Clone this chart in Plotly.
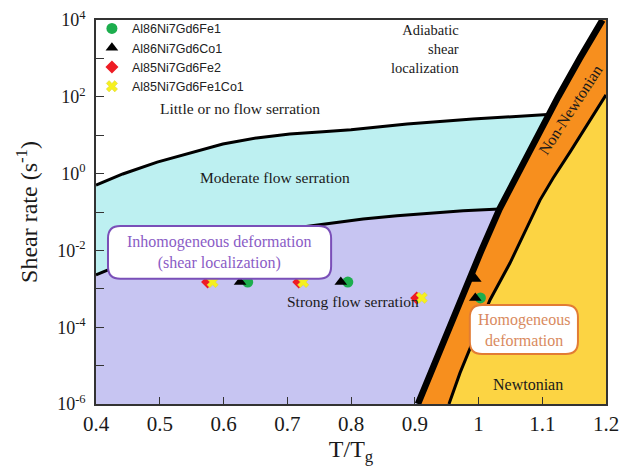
import plotly.graph_objects as go

# ---------------- data ----------------
# Region boundaries: T/Tg values and log10(shear rate) values
upper_x = [0.40, 0.442, 0.496, 0.547, 0.599, 0.652, 0.704, 0.756, 0.80, 0.888, 0.991, 1.1084]
upper_log = [-0.30, -0.01, 0.30, 0.54, 0.77, 0.93, 1.03, 1.09, 1.14, 1.29, 1.42, 1.54]

lower_x = [0.40, 0.419, 0.45, 0.50, 0.55, 0.60, 0.65, 0.70, 0.767, 0.819, 0.872, 0.925, 0.976, 1.033]
lower_log = [-2.64, -2.51, -2.33, -2.08, -1.88, -1.72, -1.58, -1.44, -1.29, -1.18, -1.10, -1.03, -0.97, -0.92]

# thick black boundary (left edge of the non-Newtonian band), bottom -> top
black_x = [0.905, 0.930, 0.9534, 0.9782, 1.0045, 1.033, 1.0618, 1.0927, 1.1084, 1.125, 1.1589, 1.1944]
black_log = [-6.0, -5.0, -4.0, -3.0, -2.0, -0.92, 0.0, 1.0, 1.54, 2.0, 3.0, 4.0]

# Newtonian / non-Newtonian boundary, bottom -> top
nn_x = [0.9537, 0.971, 1.018, 1.0494, 1.0965, 1.1169, 1.1435, 1.1702, 1.20]
nn_log = [-6.0, -5.19, -3.29, -2.33, -0.69, -0.12, 0.56, 1.27, 2.05]

# Alloy data points
series_names = ["Al86Ni7Gd6Fe1", "Al86Ni7Gd6Co1", "Al85Ni7Gd6Fe2", "Al85Ni7Gd6Fe1Co1"]
fe1_x = [0.638, 0.795, 1.003]
fe1_y = [1.5e-3, 1.5e-3, 5.8e-4]
co1_x = [0.626, 0.784, 0.995, 0.995]
co1_y = [1.5e-3, 1.5e-3, 1.8e-3, 5.8e-4]
fe2_x = [0.575, 0.718, 0.903]
fe2_y = [1.5e-3, 1.5e-3, 5.8e-4]
fe1co1_x = [0.583, 0.725, 0.911]
fe1co1_y = [1.5e-3, 1.5e-3, 5.8e-4]

x_tick_vals = [0.4, 0.5, 0.6, 0.7, 0.8, 0.9, 1.0, 1.1, 1.2]
x_tick_text = ["0.4", "0.5", "0.6", "0.7", "0.8", "0.9", "1", "1.1", "1.2"]
y_exponents = list(range(-6, 5))

# ---------------- layout constants ----------------
X_MIN, X_MAX = 0.4, 1.2
E_MIN, E_MAX = -6, 4

C_CYAN = "#BDF0F1"
C_PURPLE = "#C7C5F2"
C_ORANGE = "#F78F1E"
C_YELLOW = "#FCD443"


def p10(v):
    return [10.0 ** e for e in v]


fig = go.Figure()

ix_top = black_log.index(upper_log[-1])
ix_bot = black_log.index(lower_log[-1])

# cyan: moderate flow serration
cyan_x = upper_x + black_x[ix_top - 1:ix_bot:-1] + lower_x[::-1]
cyan_l = upper_log + black_log[ix_top - 1:ix_bot:-1] + lower_log[::-1]
fig.add_trace(go.Scatter(x=cyan_x, y=p10(cyan_l), fill="toself", fillcolor=C_CYAN,
                         mode="none", hoverinfo="skip", showlegend=False))

# purple: strong flow serration
pur_x = lower_x + black_x[ix_bot - 1::-1] + [X_MIN]
pur_l = lower_log + black_log[ix_bot - 1::-1] + [E_MIN]
fig.add_trace(go.Scatter(x=pur_x, y=p10(pur_l), fill="toself", fillcolor=C_PURPLE,
                         mode="none", hoverinfo="skip", showlegend=False))

# orange: non-Newtonian band
or_x = black_x + [X_MAX] + nn_x[::-1]
or_l = black_log + [E_MAX] + nn_log[::-1]
fig.add_trace(go.Scatter(x=or_x, y=p10(or_l), fill="toself", fillcolor=C_ORANGE,
                         mode="none", hoverinfo="skip", showlegend=False))

# yellow: Newtonian
ye_x = nn_x + [X_MAX]
ye_l = nn_log + [E_MIN]
fig.add_trace(go.Scatter(x=ye_x, y=p10(ye_l), fill="toself", fillcolor=C_YELLOW,
                         mode="none", hoverinfo="skip", showlegend=False))

# boundary lines
for bx, bl, w in [(upper_x, upper_log, 3), (lower_x, lower_log, 3),
                  (nn_x, nn_log, 3), (black_x, black_log, 6.5)]:
    fig.add_trace(go.Scatter(x=bx, y=p10(bl), mode="lines",
                             line=dict(color="black", width=w),
                             hoverinfo="skip", showlegend=False))

# data points
fig.add_trace(go.Scatter(x=fe1_x, y=fe1_y, mode="markers", name=series_names[0],
                         marker=dict(symbol="circle", size=11, color="#1DAE4E")))
fig.add_trace(go.Scatter(x=co1_x, y=co1_y, mode="markers", name=series_names[1],
                         marker=dict(symbol="triangle-up", size=11, color="black")))
fig.add_trace(go.Scatter(x=fe2_x, y=fe2_y, mode="markers", name=series_names[2],
                         marker=dict(symbol="diamond", size=10, color="#EE1C24")))
fig.add_trace(go.Scatter(x=fe1co1_x, y=fe1co1_y, mode="markers", name=series_names[3],
                         marker=dict(symbol="x", size=10, color="#F6F01E",
                                     line=dict(color="#D8D040", width=0.5))))


# ---------------- decorations ----------------
def rounded_box(x0, y0, x1, y1, rx, ry):
    return (f"M {x0+rx},{y0} L {x1-rx},{y0} Q {x1},{y0} {x1},{y0+ry} "
            f"L {x1},{y1-ry} Q {x1},{y1} {x1-rx},{y1} L {x0+rx},{y1} "
            f"Q {x0},{y1} {x0},{y1-ry} L {x0},{y0+ry} Q {x0},{y0} {x0+rx},{y0} Z")


shapes = [
    dict(type="path", xref="paper", yref="paper", layer="above",
         path=rounded_box(0.0235, 0.326, 0.461, 0.4635, 0.024, 0.032),
         fillcolor="white", line=dict(color="#7A4FB8", width=2)),
    dict(type="path", xref="paper", yref="paper", layer="above",
         path=rounded_box(0.733, 0.130, 0.945, 0.258, 0.024, 0.032),
         fillcolor="white", line=dict(color="#E27C34", width=2)),
]

SERIF = "Liberation Serif"
txt = dict(family=SERIF, size=15.5, color="#1a1a1a")
annotations = [
    dict(text="Little or no flow serration", x=0.282, y=0.769, font=txt),
    dict(text="Moderate flow serration", x=0.351, y=0.591, font=txt),
    dict(text="Strong flow serration", x=0.504, y=0.268, font=txt),
    dict(text="Adiabatic<br>shear<br>localization", x=0.716, y=0.925, xanchor="right",
         align="right", font=dict(family=SERIF, size=14.5, color="#1a1a1a")),
    dict(text="Inhomogeneous deformation<br>(shear localization)", x=0.242, y=0.3935,
         font=dict(family=SERIF, size=16, color="#8A5CC6")),
    dict(text="Homogeneous<br>deformation", x=0.839, y=0.194,
         font=dict(family=SERIF, size=16, color="#D98A5E")),
    dict(text="Newtonian", x=0.847, y=0.052, font=dict(family=SERIF, size=16, color="#1a1a1a")),
    dict(text="Non-Newtonian", x=0.931, y=0.766, textangle=-57,
         font=dict(family=SERIF, size=16, color="#1a1a1a")),
]
for a in annotations:
    a.update(xref="paper", yref="paper", showarrow=False)
    a.setdefault("xanchor", "center")
    a.setdefault("yanchor", "middle")

fig.update_layout(
    width=627, height=470,
    margin=dict(l=96, r=21, t=20, b=66),
    paper_bgcolor="white", plot_bgcolor="white",
    font=dict(family=SERIF, color="#1a1a1a"),
    shapes=shapes, annotations=annotations,
    legend=dict(x=-0.008, y=1.016, xanchor="left", yanchor="top",
                bgcolor="rgba(0,0,0,0)", borderwidth=0,
                font=dict(family="Liberation Sans", size=12.5, color="#222")),
    xaxis=dict(range=[X_MIN, X_MAX], tickvals=x_tick_vals, ticktext=x_tick_text,
               ticks="inside", ticklen=7, tickwidth=1.2, tickcolor="#333",
               showline=True, linecolor="#333", linewidth=1.5, mirror=True,
               showgrid=False, zeroline=False, automargin=False,
               tickfont=dict(family=SERIF, size=21, color="#1a1a1a"),
               title=dict(text="T/T<sub>g</sub>", font=dict(family=SERIF, size=24, color="#1a1a1a"),
                          standoff=0)),
    yaxis=dict(type="log", range=[E_MIN, E_MAX],
               tickvals=[10.0 ** e for e in y_exponents],
               ticktext=[f"10<sup>{e}</sup>" if e % 2 == 0 else "" for e in y_exponents],
               ticks="inside", ticklen=8, tickwidth=1.2, tickcolor="#333",
               showline=True, linecolor="#333", linewidth=1.5, mirror=True,
               showgrid=False, zeroline=False, automargin=False, ticklabelstandoff=5,
               tickfont=dict(family=SERIF, size=18, color="#1a1a1a"),
               title=dict(text="Shear rate (s<sup>-1</sup>)",
                          font=dict(family=SERIF, size=24, color="#1a1a1a"), standoff=13)),
)

fig.write_html("out.html", config={"displayModeBar": False},
               post_script="document.body.style.margin='0';")
